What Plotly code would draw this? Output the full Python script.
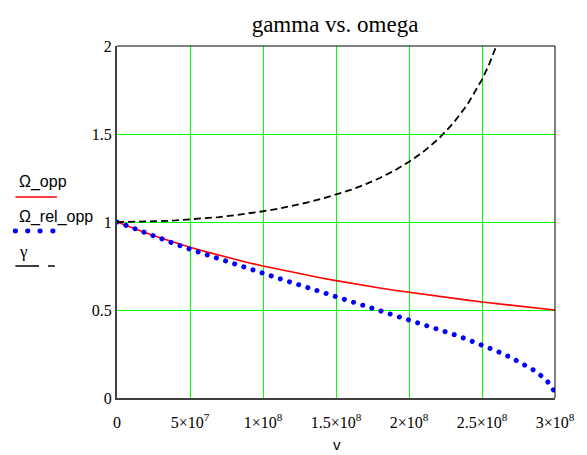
import plotly.graph_objects as go

# ---------------- data ----------------
v_opp = [0, 1e7, 2e7, 3e7, 4e7, 5e7, 6e7, 7e7, 8e7, 9e7, 1e8, 1.1e8, 1.2e8, 1.3e8, 1.4e8,
         1.5e8, 1.6e8, 1.7e8, 1.8e8, 1.9e8, 2e8, 2.1e8, 2.2e8, 2.3e8, 2.4e8, 2.5e8, 2.6e8,
         2.7e8, 2.8e8, 2.9e8, 3e8]
omega_opp = [1.0, 0.968, 0.938, 0.909, 0.882, 0.857, 0.833, 0.811, 0.789, 0.769, 0.75, 0.732,
             0.714, 0.698, 0.682, 0.667, 0.652, 0.638, 0.625, 0.612, 0.6, 0.588, 0.577, 0.566,
             0.556, 0.545, 0.536, 0.526, 0.517, 0.508, 0.5]

v_rel = [0, 1e7, 2e7, 3e7, 4e7, 5e7, 6e7, 7e7, 8e7, 9e7, 1e8, 1.1e8, 1.2e8, 1.3e8, 1.4e8,
         1.5e8, 1.6e8, 1.7e8, 1.8e8, 1.9e8, 2e8, 2.1e8, 2.2e8, 2.3e8, 2.4e8, 2.5e8, 2.6e8,
         2.7e8, 2.8e8, 2.85e8, 2.9e8, 2.95e8, 2.99e8]
omega_rel_opp = [1.0, 0.967, 0.935, 0.905, 0.875, 0.845, 0.817, 0.788, 0.761, 0.734, 0.707,
                 0.681, 0.655, 0.629, 0.603, 0.577, 0.552, 0.526, 0.5, 0.474, 0.447, 0.42,
                 0.392, 0.363, 0.333, 0.302, 0.267, 0.229, 0.186, 0.16, 0.13, 0.092, 0.045]

v_gamma = [0, 1e7, 2e7, 3e7, 4e7, 5e7, 6e7, 7e7, 8e7, 9e7, 1e8, 1.1e8, 1.2e8, 1.3e8, 1.4e8,
           1.5e8, 1.6e8, 1.7e8, 1.8e8, 1.9e8, 2e8, 2.1e8, 2.2e8, 2.3e8, 2.4e8, 2.5e8, 2.55e8,
           2.6e8, 2.65e8, 2.7e8]
gamma = [1.0, 1.001, 1.002, 1.005, 1.009, 1.014, 1.021, 1.028, 1.038, 1.048, 1.061, 1.075,
         1.091, 1.11, 1.131, 1.155, 1.182, 1.214, 1.25, 1.292, 1.342, 1.4, 1.471, 1.558,
         1.667, 1.809, 1.898, 2.004, 2.134, 2.294]

x_tickvals = [0, 5e7, 1e8, 1.5e8, 2e8, 2.5e8, 3e8]
x_ticktext = ["0", "5×10<sup>7</sup>", "1×10<sup>8</sup>", "1.5×10<sup>8</sup>",
              "2×10<sup>8</sup>", "2.5×10<sup>8</sup>", "3×10<sup>8</sup>"]
y_tickvals = [0, 0.5, 1, 1.5, 2]
y_ticktext = ["0", "0.5", "1", "1.5", "2"]

title_text = "gamma vs. omega"
x_label = "v"
legend_names = ["Ω_opp", "Ω_rel_opp", "γ"]

# ---------------- layout geometry ----------------
W, H = 587, 455
L, R, T, B = 117, 561, 46, 398


def px(x):
    return (x - L) / (R - L)


def py(y):
    return (B - y) / (B - T)


serif = "Liberation Serif, Times New Roman, serif"
sans = "Liberation Sans, Arial, sans-serif"

fig = go.Figure()
fig.add_trace(go.Scatter(x=v_opp, y=omega_opp, mode="lines", name=legend_names[0],
                         line=dict(color="#ff0000", width=1.6)))
fig.add_trace(go.Scatter(x=v_rel, y=omega_rel_opp, mode="lines", name=legend_names[1],
                         line=dict(color="#0000ff", width=5, dash="4.5px,5px")))
fig.add_trace(go.Scatter(x=v_gamma, y=gamma, mode="lines", name=legend_names[2],
                         line=dict(color="#000000", width=1.8, dash="7px,4px")))

shapes = [
    # top and right frame
    dict(type="line", xref="paper", yref="paper", x0=0, x1=1, y0=1, y1=1,
         line=dict(color="black", width=1), layer="above"),
    dict(type="line", xref="paper", yref="paper", x0=1, x1=1, y0=0, y1=1,
         line=dict(color="black", width=1), layer="above"),
    # legend samples
    dict(type="line", xref="paper", yref="paper", x0=px(14), x1=px(56), y0=py(197), y1=py(197),
         line=dict(color="#ff0000", width=1.5)),
    dict(type="line", xref="paper", yref="paper", x0=px(14), x1=px(38), y0=py(266), y1=py(266),
         line=dict(color="black", width=1.5)),
    dict(type="line", xref="paper", yref="paper", x0=px(47), x1=px(54), y0=py(266), y1=py(266),
         line=dict(color="black", width=1.5)),
]
for cx in [14, 26.5, 39, 52]:
    shapes.append(dict(type="circle", xref="paper", yref="paper",
                       x0=px(cx - 2.6), x1=px(cx + 2.6), y0=py(231 + 2.4), y1=py(231 - 2.4),
                       fillcolor="#0000ff", line=dict(width=0)))

annotations = [
    dict(text=legend_names[0], xref="paper", yref="paper", x=px(16), y=py(182),
         xanchor="left", yanchor="middle", showarrow=False, font=dict(family=sans, size=16, color="black")),
    dict(text=legend_names[1], xref="paper", yref="paper", x=px(16), y=py(217),
         xanchor="left", yanchor="middle", showarrow=False, font=dict(family=sans, size=16, color="black")),
    dict(text=legend_names[2], xref="paper", yref="paper", x=px(16), y=py(251),
         xanchor="left", yanchor="middle", showarrow=False, font=dict(family=serif, size=17, color="black")),
    dict(text=x_label, xref="paper", yref="paper", x=px(340), y=py(444),
         xanchor="center", yanchor="middle", showarrow=False, font=dict(family=sans, size=15, color="black")),
]

fig.update_layout(
    width=W, height=H, autosize=False,
    margin=dict(l=L, r=W - R, t=T, b=H - B, pad=0),
    paper_bgcolor="white", plot_bgcolor="white",
    showlegend=False,
    title=dict(text=title_text, x=px(338), xref="paper", xanchor="center",
               y=1 - 24 / H, yref="container", yanchor="middle",
               font=dict(family=serif, size=23, color="black")),
    shapes=shapes,
    annotations=annotations,
    xaxis=dict(range=[0, 3e8], tickvals=x_tickvals, ticktext=x_ticktext,
               showgrid=True, gridcolor="#00ff00", gridwidth=1, zeroline=False,
               showline=True, linecolor="#404040", linewidth=2,
               ticks="", ticklabelstandoff=9,
               tickfont=dict(family=serif, size=16, color="black")),
    yaxis=dict(range=[0, 2], tickvals=y_tickvals, ticktext=y_ticktext,
               showgrid=True, gridcolor="#00ff00", gridwidth=1, zeroline=False,
               showline=True, linecolor="#404040", linewidth=2,
               ticks="", ticklabelstandoff=0,
               tickfont=dict(family=serif, size=16, color="black")),
)

post = """
var gd = document.getElementById('{plot_id}');
gd.querySelectorAll('.gridlayer path').forEach(function(p){
  p.style.shapeRendering = 'crispEdges';
});
var traces = gd.querySelectorAll('.scatterlayer .trace');
if (traces.length > 1) {
  traces[1].querySelectorAll('path.js-line').forEach(function(p){
    p.style.strokeLinecap = 'round';
    p.style.strokeDasharray = '0.01px,9.6px';
  });
}
"""

fig.write_html("out.html", post_script=post)
